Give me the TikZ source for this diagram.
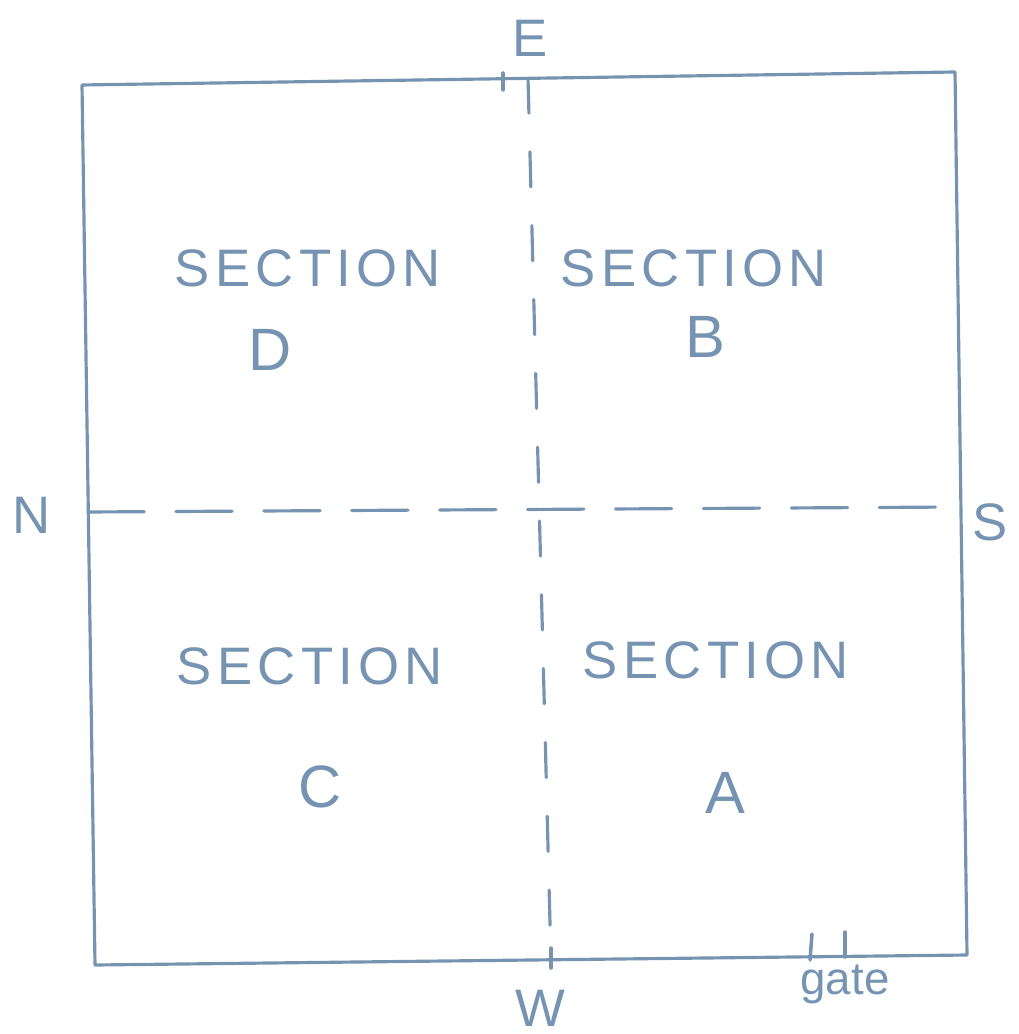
\documentclass[tikz,border=0pt]{standalone}
\usepackage{fontspec}
\setmainfont{Liberation Sans}
\newfontfamily\spaced[LetterSpace=10]{Liberation Sans}
\definecolor{pen}{RGB}{118,148,178}
\begin{document}
\begin{tikzpicture}[x=0.01cm, y=-0.01cm, line cap=round, line join=round, font=\fontsize{15}{18}\selectfont, every node/.style={text=pen}]
	\useasboundingbox (0,0) rectangle (1018,1034);
	\tikzset{
		edge/.style={draw=pen, line width=0.9pt},
		vdash/.style={edge, dash pattern=on 10pt off 11pt},
		hdash/.style={edge, dash pattern=on 16pt off 9pt},
		tick/.style={draw=pen, line width=1pt},
		sec/.style={font=\spaced\fontsize{15}{18}\selectfont},
		letter/.style={font=\fontsize{17}{20}\selectfont}
	}
	\path (82,85) coordinate (TL)
		(955,72) coordinate (TR)
		(967,955) coordinate (BR)
		(95,965) coordinate (BL)
		(528,78) coordinate (Etop)
		(551,962) coordinate (Wbot)
		(88,512) coordinate (Nend)
		(958,507) coordinate (Send);
	
	\draw[edge] (TL) -- (TR) -- (BR) -- (BL) -- cycle;
	\draw[vdash] (Etop) -- (Wbot);
	\draw[hdash] (Nend) -- (Send);
	
	% small marks on the fence
	\draw[tick] (503,73) -- (503,90);
	\draw[tick] (551,948) -- (551,968);
	\draw[tick] (812,934) -- (810,960);
	\draw[tick] (845,932) -- (845,957);
	
	% compass points
	\node (E) at (530,38) {E};
	\node (N) at (32,515) {N};
	\node (S) at (990,522) {S};
	\node (W) at (540,1008) {W};
	\node (gate) at (845,984) {\fontsize{13}{15}\selectfont gate};
	
	% sections
	\node[sec] (secD) at (308,268) {SECTION};
	\node[letter] (D) at (270,350) {D};
	\node[sec] (secB) at (694,268) {SECTION};
	\node[letter] (B) at (705,337) {B};
	\node[sec] (secC) at (310,666) {SECTION};
	\node[letter] (C) at (320,787) {C};
	\node[sec] (secA) at (716,660) {SECTION};
	\node[letter] (A) at (725,793) {A};
\end{tikzpicture}
\end{document}
